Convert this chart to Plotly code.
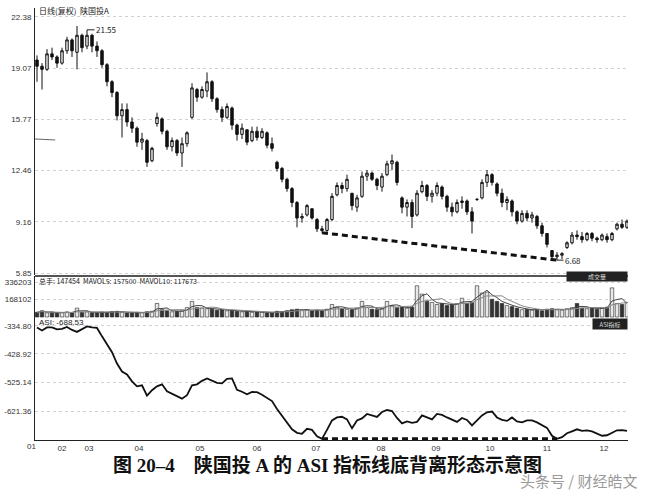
import plotly.graph_objects as go
import pandas as pd

# ---------------- data ----------------
opens = [19.6, 19.2, 19.0, 20.0, 19.8, 19.4, 20.2, 20.9, 20.1, 21.2,
         20.5, 21.2, 20.5, 20.2, 19.3, 18.2, 17.5, 16.0, 16.4, 15.6,
         15.2, 14.3, 14.4, 13.1, 15.5, 15.8, 15.0, 14.0, 14.4, 13.6,
         14.2, 15.9, 17.7, 17.2, 17.6, 18.2, 17.1, 16.4, 15.9, 16.5,
         15.4, 14.8, 15.1, 14.4, 15.0, 14.6, 14.9, 14.2, 13.0, 12.6,
         11.9, 11.3, 10.4, 9.4, 9.6, 10.0, 9.3, 8.7, 8.6, 9.3,
         10.9, 11.5, 11.3, 11.0, 10.1, 10.8, 12.1, 12.3, 11.9, 11.4,
         12.2, 12.9, 13.0, 10.7, 10.1, 10.4, 9.6, 11.1, 11.5, 10.8,
         11.0, 11.4, 10.8, 10.1, 9.8, 10.4, 10.5, 9.8, 10.6, 10.7,
         11.7, 12.2, 11.6, 11.0, 10.4, 10.5, 9.8, 9.2, 9.7, 9.4,
         9.5, 8.9, 8.4, 7.3, 6.9, 7.0, 7.5, 7.8, 8.3, 8.2,
         8.0, 8.4, 8.1, 8.0, 8.2, 8.0, 8.7, 9.0, 8.8]
highs = [19.9, 19.4, 20.3, 20.4, 19.9, 20.4, 21.1, 21.0, 21.8, 21.3,
         21.55, 21.3, 20.8, 20.3, 19.4, 18.3, 17.6, 16.8, 16.8, 15.9,
         15.3, 14.9, 14.5, 14.0, 16.2, 15.9, 15.1, 14.6, 14.5, 14.6,
         15.0, 18.1, 17.8, 17.9, 18.8, 18.3, 17.2, 16.6, 16.8, 16.6,
         15.5, 15.5, 15.1, 15.3, 15.3, 15.2, 15.0, 14.6, 13.1, 12.7,
         12.0, 11.4, 10.5, 9.7, 10.3, 10.0, 9.4, 8.9, 9.4, 11.0,
         11.7, 11.7, 12.2, 11.0, 10.9, 12.4, 12.5, 12.4, 12.0, 12.3,
         13.1, 13.5, 13.1, 10.8, 10.6, 10.6, 11.2, 11.8, 11.6, 11.2,
         11.7, 11.5, 10.9, 10.4, 10.6, 10.8, 10.6, 10.1, 10.7, 11.9,
         12.5, 12.3, 11.7, 11.3, 10.8, 10.6, 9.9, 9.9, 9.9, 9.8,
         9.6, 9.1, 8.4, 7.3, 7.2, 7.2, 7.9, 8.5, 8.6, 8.5,
         8.5, 8.5, 8.2, 8.4, 8.4, 8.5, 9.1, 9.3, 9.3]
lows = [18.2, 17.7, 18.9, 19.6, 19.1, 19.3, 20.0, 19.8, 19.0, 20.1,
        20.3, 20.1, 19.8, 19.1, 17.9, 17.2, 15.7, 14.6, 15.3, 14.9,
        14.0, 13.8, 12.7, 13.0, 15.3, 14.8, 13.8, 13.7, 13.4, 12.7,
        14.0, 15.8, 16.9, 17.1, 17.2, 16.9, 16.2, 15.6, 15.8, 15.1,
        14.4, 14.5, 14.1, 14.3, 14.4, 14.5, 13.9, 13.7, 12.4, 11.7,
        11.1, 10.1, 8.8, 9.1, 9.5, 9.3, 8.5, 8.45, 8.5, 9.2,
        10.8, 11.0, 11.1, 9.9, 9.8, 10.7, 11.8, 11.8, 11.2, 11.1,
        12.1, 12.5, 11.5, 9.7, 9.5, 8.75, 9.5, 11.0, 10.5, 10.4,
        10.8, 10.6, 9.8, 9.5, 9.7, 10.0, 9.6, 8.4, 10.5, 10.6,
        11.4, 11.5, 10.8, 10.1, 9.9, 9.5, 9.0, 9.1, 9.2, 9.1,
        8.7, 8.2, 7.5, 6.7, 6.68, 6.75, 7.4, 7.7, 8.0, 7.8,
        7.9, 7.9, 7.8, 7.9, 7.8, 7.9, 8.6, 8.7, 8.7]
closes = [19.2, 19.0, 20.0, 19.8, 19.4, 20.2, 20.9, 20.2, 21.2, 20.4,
          21.2, 20.5, 20.2, 19.3, 18.2, 17.5, 16.0, 16.4, 15.6, 15.2,
          14.3, 14.5, 13.0, 13.9, 15.9, 15.0, 14.0, 14.4, 13.6, 14.2,
          14.9, 17.8, 17.2, 17.7, 18.2, 17.1, 16.4, 15.9, 16.6, 15.4,
          14.8, 15.2, 14.3, 15.0, 14.6, 15.0, 14.1, 13.9, 12.6, 11.9,
          11.3, 10.4, 9.4, 9.5, 10.2, 9.4, 8.7, 8.6, 9.3, 10.8,
          11.5, 11.3, 11.9, 10.2, 10.7, 12.1, 12.3, 11.9, 11.5, 12.1,
          12.9, 13.1, 11.7, 10.1, 10.4, 9.5, 11.0, 11.5, 10.8, 11.0,
          11.5, 10.8, 10.1, 9.8, 10.4, 10.5, 9.8, 9.2, 10.6, 11.7,
          12.2, 11.7, 11.0, 10.4, 10.6, 9.8, 9.2, 9.7, 9.4, 9.6,
          8.9, 8.4, 7.7, 6.9, 7.0, 7.1, 7.8, 8.3, 8.2, 8.0,
          8.4, 8.1, 8.0, 8.3, 8.0, 8.4, 9.0, 8.8, 9.2]
volumes = [45, 60, 40, 45, 38, 42, 50, 40, 85, 45,
           50, 42, 40, 48, 45, 52, 55, 45, 40, 42,
           45, 40, 50, 55, 130, 70, 60, 50, 55, 60,
           90, 150, 90, 85, 80, 75, 65, 70, 60, 65,
           55, 50, 55, 45, 50, 45, 40, 45, 55, 50,
           60, 70, 75, 65, 70, 60, 65, 60, 75, 120,
           95, 80, 75, 70, 85, 150, 90, 75, 70, 80,
           150, 110, 90, 100, 85, 95, 300, 220, 150, 140,
           120, 130, 110, 120, 130, 180, 130, 140, 300, 230,
           240, 170, 150, 130, 110, 100, 85, 70, 75, 65,
           70, 60, 75, 80, 70, 65, 80, 90, 130, 85,
           80, 90, 75, 85, 95, 280, 130, 120, 140]  # thousand lots
asi = [-339.8, -349.8, -339.8, -339.8, -346.5, -344.8, -338.1, -348.1, -354.8, -346.5,
       -336.5, -339.8, -341.5, -369.8, -398.1, -423.1, -461.4, -488.1, -498.1, -521.4,
       -538.1, -534.7, -569.7, -551.4, -538.1, -531.4, -554.7, -563.0, -571.4, -579.7,
       -568.0, -534.7, -531.4, -519.7, -511.4, -519.7, -526.4, -528.1, -513.1, -511.4,
       -549.7, -556.4, -564.7, -557.0, -558.0, -566.4, -576.4, -588.0, -614.7, -638.0,
       -663.0, -683.0, -694.7, -698.0, -681.3, -684.7, -706.3, -715.0, -684.7, -653.0,
       -643.0, -640.7, -649.7, -679.7, -653.0, -646.3, -631.3, -637.3, -641.3, -624.7,
       -618.0, -621.4, -644.7, -663.0, -656.3, -661.3, -658.0, -636.3, -643.0, -649.7,
       -631.3, -634.7, -643.0, -651.3, -658.0, -644.7, -651.3, -669.7, -653.0, -636.3,
       -625.7, -623.0, -643.0, -651.3, -654.7, -643.0, -656.3, -659.7, -653.0, -653.0,
       -659.7, -669.7, -678.1, -704.7, -715.0, -709.6, -696.3, -689.7, -683.0, -688.0,
       -686.3, -689.7, -696.3, -704.7, -703.0, -694.7, -686.3, -685.6, -688.53]

divergence_idx = [57, 104]          # the two price / ASI lows joined by dashed lines

month_pos = [5.0, 10.4, 20.4, 32.6, 44.0, 55.8, 68.8, 79.8, 90.6, 102.0, 113.4]
month_labels = ["02", "03", "04", "05", "06", "07", "08", "09", "10", "11", "12"]
price_ticks = [5.85, 9.16, 12.46, 15.77, 19.07, 22.38]
vol_ticks = [168102, 336203]
asi_ticks = [-621.36, -525.14, -428.92, -334.80]

# ---------------- figure ----------------
n = len(closes)
xs = list(range(n))
vol_units = [v * 1000 for v in volumes]
vol_s = pd.Series(vol_units)
ma5 = vol_s.rolling(3, min_periods=1).mean().tolist()
ma10 = vol_s.rolling(6, min_periods=1).mean().tolist()
bar_colors = ['#e8e8e8' if c >= o else '#333333' for o, c in zip(opens, closes)]

fig = go.Figure()
fig.add_trace(go.Candlestick(
    x=xs, open=opens, high=highs, low=lows, close=closes,
    increasing=dict(line=dict(color='#111', width=1), fillcolor='#f0f0f0'),
    decreasing=dict(line=dict(color='#111', width=1), fillcolor='#111111'),
    whiskerwidth=0, showlegend=False, xaxis='x', yaxis='y'))
fig.add_trace(go.Scatter(
    x=[xs[i] for i in divergence_idx], y=[lows[i] for i in divergence_idx],
    mode='lines', line=dict(color='#111', width=3, dash='6px,4px'),
    showlegend=False, xaxis='x', yaxis='y'))

fig.add_trace(go.Bar(x=xs, y=vol_units, marker=dict(color=bar_colors, line=dict(color='#222', width=0.6)),
                     showlegend=False, xaxis='x', yaxis='y2'))
fig.add_trace(go.Scatter(x=xs, y=ma5, mode='lines', line=dict(color='#444', width=1),
                         showlegend=False, xaxis='x', yaxis='y2'))
fig.add_trace(go.Scatter(x=xs, y=ma10, mode='lines', line=dict(color='#888', width=1),
                         showlegend=False, xaxis='x', yaxis='y2'))

fig.add_trace(go.Scatter(x=xs, y=asi, mode='lines', line=dict(color='#111', width=1.8),
                         showlegend=False, xaxis='x', yaxis='y3', cliponaxis=False))
fig.add_trace(go.Scatter(
    x=[xs[i] for i in divergence_idx], y=[asi[i] for i in divergence_idx],
    mode='lines', line=dict(color='#111', width=3, dash='6px,4px'),
    showlegend=False, xaxis='x', yaxis='y3', cliponaxis=False))

tickfont = dict(family='Liberation Sans, Arial, sans-serif', size=8, color='#333')
axis_common = dict(showline=True, linecolor='#222', linewidth=1, ticks='', zeroline=False,
                   tickfont=tickfont, gridcolor='#d2d2d2', griddash='dot', gridwidth=1,
                   anchor='x', fixedrange=True, automargin=False, ticklabelstandoff=1)

fig.update_layout(
    width=657, height=492,
    margin=dict(l=35, r=29, t=8, b=52, autoexpand=False),
    paper_bgcolor='white', plot_bgcolor='white',
    bargap=0.3,
    xaxis=dict(range=[-0.4, 118.2], showline=True, linecolor='#222', linewidth=1,
               showgrid=False, zeroline=False, anchor='y3', ticks='', automargin=False,
               tickvals=month_pos, ticktext=month_labels, tickfont=tickfont,
               rangeslider=dict(visible=False), fixedrange=True),
    yaxis=dict(domain=[0.3819, 1.0], range=[5.72, 22.96], tickvals=price_ticks,
               ticktext=['%.2f' % v for v in price_ticks], **axis_common),
    yaxis2=dict(domain=[0.2824, 0.3796], range=[-9606, 393800], tickvals=vol_ticks,
                ticktext=[str(v) for v in vol_ticks], **axis_common),
    yaxis3=dict(domain=[0.0, 0.2824], range=[-719, -308], tickvals=asi_ticks,
                ticktext=['%.2f' % v for v in asi_ticks], **axis_common),
)

small = dict(family='Noto Sans CJK SC, Liberation Sans, sans-serif', size=8, color='#222')
ann = [
    dict(text='日线(复权)  陕国投A', x=0.004, y=0.995, xref='paper', yref='paper',
         xanchor='left', yanchor='middle', showarrow=False, font=small),
    dict(text='21.55', x=10, y=21.55, xref='x', yref='y', showarrow=True, arrowhead=0,
         arrowwidth=1, arrowcolor='#222', ax=19, ay=0, font=small),
    dict(text='6.68', x=104, y=6.68, xref='x', yref='y', showarrow=True, arrowhead=0,
         arrowwidth=1, arrowcolor='#222', ax=16, ay=0, font=small),
    dict(text='总手: 147454  MAVOL5: 157500  MAVOL10: 117673', x=0.004, y=0.368,
         xref='paper', yref='paper', xanchor='left', yanchor='middle', showarrow=False,
         font=dict(family='Noto Sans CJK SC, Liberation Sans, sans-serif', size=7, color='#222')),
    dict(text='ASI: -688.53', x=0.004, y=0.273, xref='paper', yref='paper',
         xanchor='left', yanchor='middle', showarrow=False,
         font=dict(family='Liberation Sans, sans-serif', size=8, color='#222')),
    dict(text='成交量', x=1.0, y=0.3796, xref='paper', yref='paper', xanchor='right',
         yanchor='middle', showarrow=False, bgcolor='#222', width=58, height=7,
         font=dict(family='Noto Sans CJK SC, sans-serif', size=6, color='#ddd')),
    dict(text='ASI指标', x=1.0, y=0.2824, xref='paper', yref='paper', xanchor='right',
         yanchor='top', showarrow=False, bgcolor='#222', width=32, height=8,
         font=dict(family='Noto Sans CJK SC, sans-serif', size=6, color='#ddd')),
    dict(text='01', x=-0.006, y=-0.0162, xref='paper', yref='paper', xanchor='center',
         yanchor='middle', showarrow=False, font=tickfont),
    dict(text='<b>图 20–4　陕国投 A 的 ASI 指标线底背离形态示意图</b>', x=0.494, y=-0.057,
         xref='paper', yref='paper', xanchor='center', yanchor='middle', showarrow=False,
         font=dict(family='Liberation Serif, Noto Sans CJK SC, serif', size=19, color='#111')),
    dict(text='头条号 / 财经皓文', x=0.918, y=-0.093, xref='paper', yref='paper',
         xanchor='center', yanchor='middle', showarrow=False,
         font=dict(family='Noto Sans CJK SC, sans-serif', size=15, color='#9a9a9a')),
]
fig.update_layout(annotations=ann)

fig.add_shape(type='line', xref='paper', yref='paper', x0=0, x1=1, y0=0.3796, y1=0.3796,
              line=dict(color='#555', width=2))
fig.add_shape(type='line', xref='paper', yref='paper', x0=0, x1=0.034, y0=0.6968, y1=0.6945,
              line=dict(color='#666', width=1))

# remove the browser's default 8px page margin so the figure fills the window
fig.write_html("out.html", config={'displayModeBar': False},
               post_script="document.body.style.margin='0';")
